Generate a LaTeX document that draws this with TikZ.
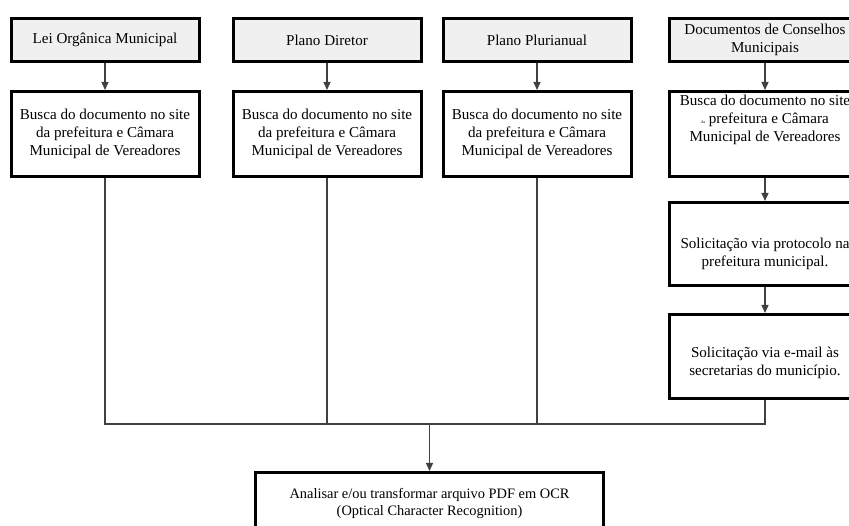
\documentclass[tikz,border=0pt]{standalone}
\usepackage{fontspec}
\setmainfont{Liberation Serif}
\usetikzlibrary{arrows.meta}

\tikzset{
  docbox/.style={draw, line width=3pt, fill=gray!12, minimum width=188pt,
    minimum height=43pt, align=center, inner sep=2pt,
    font=\fontsize{15.1}{18}\selectfont},
  stepbox/.style={draw, line width=3pt, fill=white, minimum width=188pt,
    minimum height=85pt, align=center, inner sep=2pt,
    font=\fontsize{15.1}{18}\selectfont},
  link/.style={line width=1.3pt, draw=black!75},
  arr/.style={link, -{Triangle[length=8pt,width=7pt]}}
}

\begin{document}
\begin{tikzpicture}[x=1pt,y=-1pt]
\clip (0,0) rectangle (849,526);
%\draw[step=50pt,gray,very thin] (0,0) grid (849,526);
% documents
\node[docbox] (t1) at (105,40) {Lei Orgânica Municipal};
\node[docbox] (t2) at (327,40) {Plano Diretor};
\node[docbox] (t3) at (537,40) {Plano Plurianual};
\node[docbox, minimum width=191pt] (t4) at (765,40) {Documentos de Conselhos\\Municipais};
% search
\node[stepbox] (b1) at (105,134) {Busca do documento no site\\da prefeitura e Câmara\\Municipal de Vereadores};
\node[stepbox] (b2) at (327,134) {Busca do documento no site\\da prefeitura e Câmara\\Municipal de Vereadores};
\node[stepbox] (b3) at (537,134) {Busca do documento no site\\da prefeitura e Câmara\\Municipal de Vereadores};
\node[stepbox, minimum width=191pt] (b4) at (765,134) {Busca do documento no site\\{\fontsize{4}{4}\selectfont da} prefeitura e Câmara\\Municipal de Vereadores\\[14pt]\mbox{}};
\node[stepbox, minimum width=191pt, minimum height=83pt] (s1) at (765,244) {\mbox{}\\[13pt]Solicitação via protocolo na\\prefeitura municipal.};
\node[stepbox, minimum width=191pt, minimum height=84pt] (s2) at (765,356.5) {\mbox{}\\[5pt]Solicitação via e-mail às\\secretarias do município.};
\node[stepbox, minimum width=348pt, minimum height=62pt,
  font=\fontsize{14.4}{17}\selectfont] (ocr) at (429.5,503.5) {Analisar e/ou transformar arquivo PDF em OCR\\(Optical Character Recognition)};

\draw[arr] (t1) -- (b1);
\draw[arr] (t2) -- (b2);
\draw[arr] (t3) -- (b3);
\draw[arr] (t4) -- (b4);
\draw[arr] (b4) -- (s1);
\draw[arr] (s1) -- (s2);

\coordinate (join) at (429.5,424);
\draw[link] (b1) |- (join);
\draw[link] (b2) |- (join);
\draw[link] (b3) |- (join);
\draw[link] (s2) |- (join);
\draw[arr] (join) -- (ocr);
\end{tikzpicture}
\end{document}
